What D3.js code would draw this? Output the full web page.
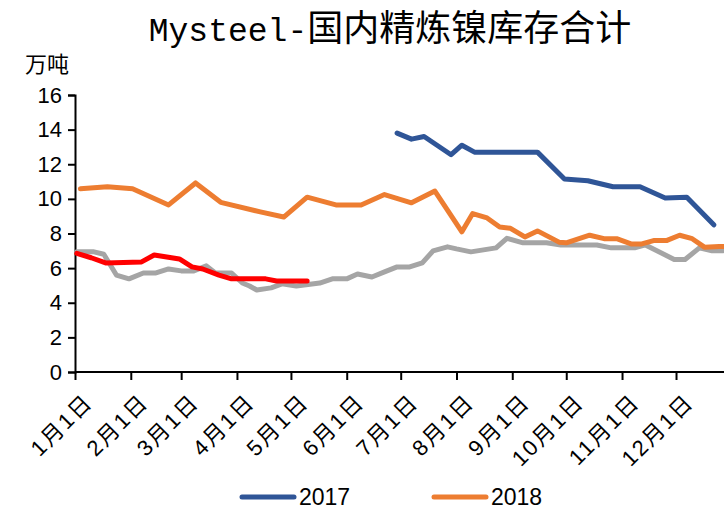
<!DOCTYPE html>
<html>
<head>
<meta charset="utf-8">
<script src="https://cdn.jsdelivr.net/npm/d3@7"></script>
<style>
  body { margin: 0; background: #fff; }
  svg { display: block; }
</style>
</head>
<body>
<div id="chart"></div>
<script>
// tick labels
var yTicks = [0, 2, 4, 6, 8, 10, 12, 14, 16];

// gray series (no legend entry visible)
var dates2016 = ["01-02","01-11","01-17","01-24","01-31","02-08","02-15","02-22","03-01","03-08",
  "03-15","03-20","03-25","03-29","04-04","04-08","04-12","04-20","04-26","05-04",
  "05-17","05-24","06-01","06-07","06-15","06-22","06-29","07-06","07-13","07-19",
  "07-27","08-01","08-09","08-23","08-29","09-07","09-20","09-28","10-18","10-26",
  "11-08","11-14","11-30","12-06","12-14","12-21","12-27"];
var vals2016 = [6.95,6.95,6.8,5.6,5.38,5.72,5.72,5.95,5.84,5.84,
  6.13,5.72,5.72,5.72,5.14,4.97,4.74,4.86,5.09,4.97,
  5.14,5.38,5.38,5.66,5.49,5.78,6.07,6.07,6.3,7.0,
  7.23,7.11,6.94,7.17,7.72,7.46,7.46,7.34,7.34,7.17,
  7.17,7.34,6.5,6.5,7.17,7.0,7.0];

// 2017 (blue)
var dates2017 = ["06-29","07-07","07-14","07-29","08-04","08-11","09-15","09-30","10-13","10-27",
  "11-11","11-25","12-07","12-22"];
var vals2017 = [13.8,13.45,13.6,12.55,13.1,12.7,12.7,11.15,11.05,10.7,
  10.7,10.05,10.1,8.5];

// 2018 (orange)
var dates2018 = ["01-04","01-19","02-02","02-22","03-09","03-23","04-14","04-27","05-10","05-26",
  "06-09","06-22","07-07","07-20","08-04","08-10","08-18","08-25","08-31","09-08",
  "09-15","09-27","10-01","10-14","10-22","10-29","11-06","11-12","11-19","11-26",
  "12-03","12-10","12-17","12-25","12-31"];
var vals2018 = [10.58,10.7,10.58,9.65,10.92,9.8,9.25,8.95,10.1,9.65,
  9.65,10.25,9.77,10.45,8.1,9.15,8.9,8.38,8.3,7.8,
  8.15,7.5,7.46,7.9,7.7,7.7,7.4,7.4,7.6,7.6,
  7.9,7.7,7.2,7.25,7.25];

// red series (no legend entry visible)
var dates2019 = ["01-02","01-10","01-18","02-07","02-14","02-28","03-07","03-13","03-22","03-29",
  "04-08","04-17","04-23","05-10"];
var vals2019 = [6.85,6.6,6.3,6.36,6.76,6.53,6.07,5.95,5.6,5.38,
  5.38,5.38,5.26,5.26];

var w = 724;
var h = 515;
var plotLeft = 75, plotRight = 730, plotTop = 95, plotBottom = 372;

var parse = d3.timeParse("%Y-%m-%d");
function toPoints(dates, vals) {
  return dates.map(function(d, i) {
    return { date: parse("2017-" + d), value: vals[i] };
  });
}

var series = [
  { name: "2016", color: "#a5a5a5", pts: toPoints(dates2016, vals2016) },
  { name: "2017", color: "#2f5597", pts: toPoints(dates2017, vals2017) },
  { name: "2018", color: "#ed7d31", pts: toPoints(dates2018, vals2018) },
  { name: "2019", color: "#ff0000", pts: toPoints(dates2019, vals2019) }
];

var x = d3.scaleTime()
  .domain([parse("2017-01-01"), parse("2017-12-31")])
  .range([plotLeft, plotRight]);
var y = d3.scaleLinear().domain([0, 16]).range([plotBottom, plotTop]);

var svg = d3.select("#chart")
  .append("svg")
  .attr("width", w)
  .attr("height", h);

// title
var title = svg.append("text")
  .attr("x", 390)
  .attr("y", 41)
  .attr("text-anchor", "middle")
  .attr("fill", "#000");
title.append("tspan")
  .attr("font-family", "Liberation Mono, DejaVu Sans Mono, monospace")
  .attr("font-size", 33)
  .text("Mysteel-");
title.append("tspan")
  .attr("font-family", "Noto Sans CJK SC")
  .attr("font-size", 36)
  .text("国内精炼镍库存合计");

// unit
svg.append("text")
  .attr("x", 25)
  .attr("y", 72)
  .attr("font-family", "Noto Sans CJK SC")
  .attr("font-size", 22)
  .text("万吨");

// y axis
var yAxis = svg.append("g")
  .attr("transform", "translate(" + plotLeft + ",0)")
  .call(d3.axisLeft(y).tickValues(yTicks).tickSize(7).tickPadding(6));
yAxis.select(".domain").attr("stroke-width", 2);
yAxis.selectAll(".tick line").attr("stroke-width", 2);
yAxis.selectAll("text")
  .attr("font-family", "Liberation Sans, Arial, sans-serif")
  .attr("font-size", 22)
  .attr("fill", "#000");

// x axis
var xAxis = svg.append("g")
  .attr("transform", "translate(0," + plotBottom + ")")
  .call(d3.axisBottom(x)
    .ticks(d3.timeMonth.every(1))
    .tickSize(8)
    .tickFormat(function(d) { return (d.getMonth() + 1) + "月1日"; }));
xAxis.select(".domain").attr("stroke-width", 2).attr("d", "M" + plotLeft + ",0H" + plotRight);
xAxis.selectAll(".tick line").attr("stroke-width", 2);
xAxis.selectAll("text")
  .attr("font-family", "Liberation Sans, Noto Sans CJK SC, sans-serif")
  .attr("font-size", 22)
  .attr("letter-spacing", 2)
  .attr("fill", "#000")
  .attr("text-anchor", "end")
  .attr("y", 0)
  .attr("dy", "0.35em")
  .attr("transform", "translate(13,26) rotate(-45)");

// lines
var line = d3.line()
  .x(function(d) { return x(d.date); })
  .y(function(d) { return y(d.value); });

svg.selectAll("path.series")
  .data(series)
  .enter()
  .append("path")
  .attr("class", "series")
  .attr("d", function(d) { return line(d.pts); })
  .attr("fill", "none")
  .attr("stroke", function(d) { return d.color; })
  .attr("stroke-width", 5)
  .attr("stroke-linejoin", "round")
  .attr("stroke-linecap", "round");

// legend (only two entries visible)
var legendItems = [series[1], series[2]];
var lg = svg.selectAll("g.legend")
  .data(legendItems)
  .enter()
  .append("g")
  .attr("class", "legend")
  .attr("transform", function(d, i) { return "translate(" + (242 + i * 192) + ",497)"; });
lg.append("line")
  .attr("x1", 0).attr("x2", 52)
  .attr("stroke", function(d) { return d.color; })
  .attr("stroke-width", 5)
  .attr("stroke-linecap", "round");
lg.append("text")
  .attr("x", 57)
  .attr("y", 8)
  .attr("font-family", "Liberation Sans, Arial, sans-serif")
  .attr("font-size", 23)
  .text(function(d) { return d.name; });
</script>
</body>
</html>
